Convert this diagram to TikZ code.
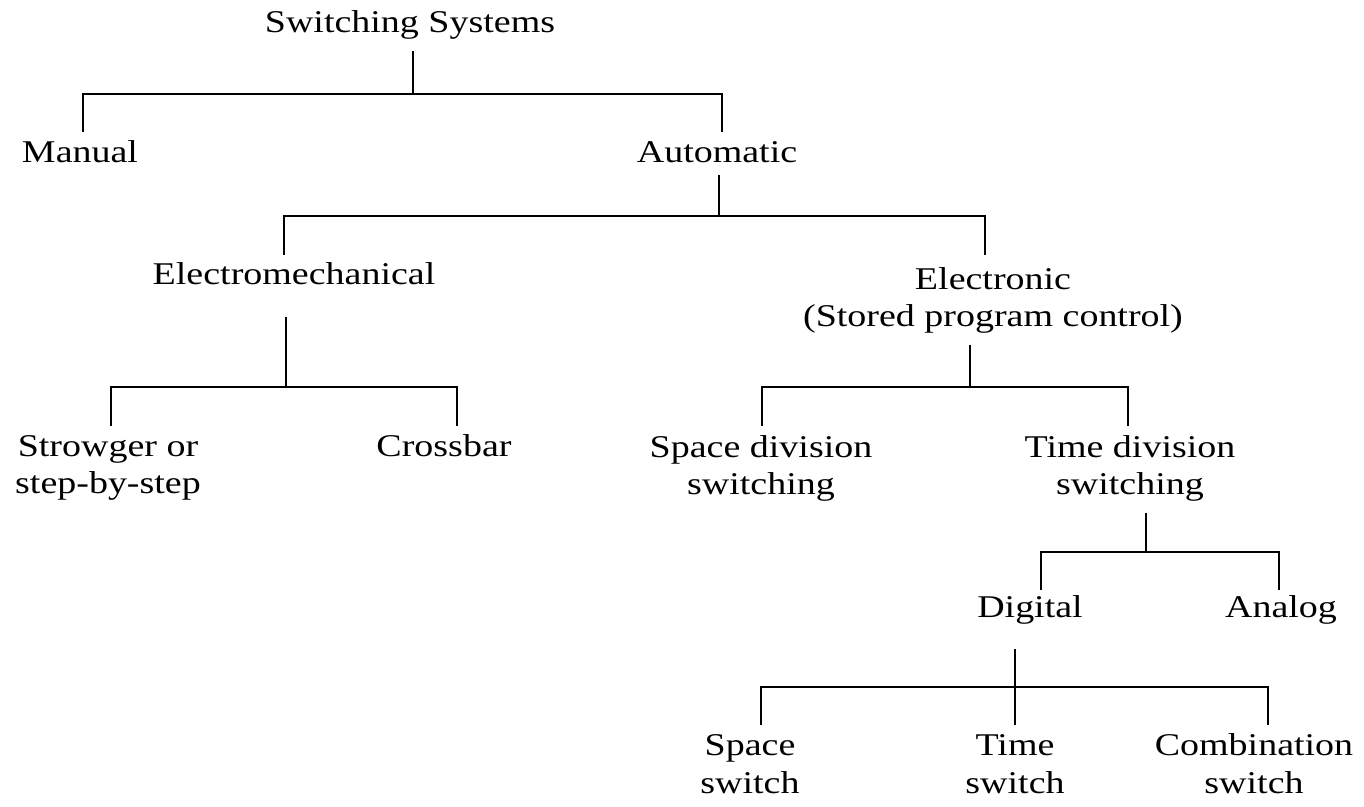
\documentclass[tikz,border=0pt]{standalone}
\usepackage{fontspec}
\setmainfont{Liberation Serif}[FakeStretch=1.2]
\usetikzlibrary{positioning}
\tikzset{
        treenode/.style={align=center, inner sep=3pt, font=\fontsize{9}{10.8}\selectfont},
        % Class nodes, placed by their (last) baseline
        node_class/.style={treenode, anchor=base},
        % Tree branches
        branch/.style={draw=black, line width=0.65pt}
}

\begin{document}
\begin{tikzpicture}[x=0.01cm, y=-0.01cm]
    \useasboundingbox (0,0) rectangle (1364,807);
    % Classes
    \node[node_class] (root)   at (410,33)   {Switching Systems};
    \node[node_class] (manual) at (80,163)   {Manual};
    \node[node_class] (auto)   at (717,163)  {Automatic};
    \node[node_class] (emech)  at (294,285)  {Electromechanical};
    \node[node_class] (elec)   at (993,327)  {Electronic\\(Stored program control)};
    \node[node_class] (strow)  at (108,494)  {Strowger or\\step-by-step};
    \node[node_class] (xbar)   at (444,457)  {Crossbar};
    \node[node_class] (sdiv)   at (761,495)  {Space division\\switching};
    \node[node_class] (tdiv)   at (1130,495) {Time division\\switching};
    \node[node_class] (digi)   at (1030,617) {Digital};
    \node[node_class] (anlg)   at (1281,617) {Analog};
    \node[node_class] (ssw)    at (750,793)  {Space\\switch};
    \node[node_class] (tsw)    at (1015,793) {Time\\switch};
    \node[node_class] (csw)    at (1254,793) {Combination\\switch};
    % Junctions and branch ends
    \coordinate (j_root) at (413,94);
    \coordinate (in_manual) at (83,132);
    \coordinate (in_auto) at (722,132);
    \coordinate (j_auto) at (719,216);
    \coordinate (in_emech) at (284,255);
    \coordinate (in_elec) at (985,255);
    \coordinate (j_emech) at (286,387);
    \coordinate (in_strow) at (111,426);
    \coordinate (in_xbar) at (457,426);
    \coordinate (j_elec) at (970,387);
    \coordinate (in_sdiv) at (762,426);
    \coordinate (in_tdiv) at (1128,426);
    \coordinate (j_tdiv) at (1146,552);
    \coordinate (in_digi) at (1041,590);
    \coordinate (in_anlg) at (1279,590);
    \coordinate (j_digi) at (1015,687);
    \coordinate (in_ssw) at (761,725);
    \coordinate (in_tsw) at (1015,725);
    \coordinate (in_csw) at (1268,725);
    % Branches
    \draw[branch] (j_root |- root.south) -- (j_root);
    \draw[branch] (in_manual) |- (j_root) -| (in_auto);
    \draw[branch] (j_auto |- auto.south) -- (j_auto);
    \draw[branch] (in_emech) |- (j_auto) -| (in_elec);
    \draw[branch, shorten <=0.2cm] (j_emech |- emech.south) -- (j_emech);
    \draw[branch] (in_strow) |- (j_emech) -| (in_xbar);
    \draw[branch] (j_elec |- elec.south) -- (j_elec);
    \draw[branch] (in_sdiv) |- (j_elec) -| (in_tdiv);
    \draw[branch] (j_tdiv |- tdiv.south) -- (j_tdiv);
    \draw[branch] (in_digi) |- (j_tdiv) -| (in_anlg);
    \draw[branch, shorten <=0.14cm] (j_digi |- digi.south) -- (in_tsw);
    \draw[branch] (in_ssw) |- (j_digi) -| (in_csw);
\end{tikzpicture}
\end{document}
